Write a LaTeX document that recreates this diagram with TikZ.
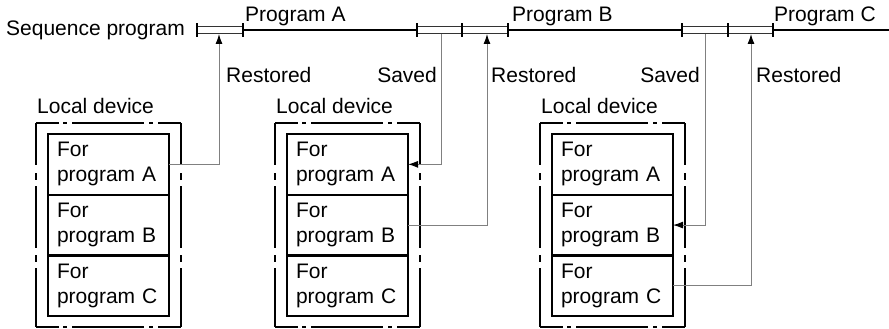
\documentclass[tikz,border=0pt]{standalone}
\usepackage{fontspec}
\setmainfont{Liberation Sans}
\usetikzlibrary{positioning,arrows.meta}

\tikzset{
  lbl/.style={inner sep=0pt, font=\fontsize{21}{25}\selectfont},
  slot/.style={draw, line width=2.4pt, outer sep=0pt, minimum width=121pt, minimum height=60.7pt,
    inner xsep=9pt, inner ysep=0pt, text width=103pt, align=left, font=\fontsize{21}{25}\selectfont},
  hbreak/.style={line width=1.2pt, dash pattern=on 23pt off 4pt on 4pt off 5pt on 72pt off 5pt on 4pt off 5pt on 40pt},
  vbreak/.style={line width=1.2pt, dash pattern=on 42pt off 8pt on 7pt off 6pt on 62pt off 7pt on 7pt off 6pt on 80pt},
  rail/.style={draw=black!80, line width=1.1pt},
  seq/.style={line width=2.4pt},
  link/.style={draw=black!50, line width=1pt},
  tip/.style={-{Latex[length=10pt,width=7pt,color=black]}},
}

\begin{document}
\begin{tikzpicture}[x=1pt, y=-1pt]
    \useasboundingbox (0,0) rectangle (889,329);

    % --- 参数 ---
    \def\railY{30}      % 时间轴的高度
    \def\railTop{23}    % 刻度上端
    \def\railBot{37}    % 刻度下端

    % --- 时间轴上的刻度点 ---
    \coordinate (t0) at (197,\railY);
    \coordinate (t1) at (243,\railY);
    \coordinate (t2) at (417,\railY);
    \coordinate (t3) at (462,\railY);
    \coordinate (t4) at (508,\railY);
    \coordinate (t5) at (682,\railY);
    \coordinate (t6) at (728,\railY);
    \coordinate (t7) at (773,\railY);
    \coordinate (tend) at (889,\railY);

    % --- 程序执行段 (粗黑线) ---
    \draw[seq] (t1) -- (t2);
    \draw[seq] (t4) -- (t5);
    \draw[seq] (t7) -- (tend);

    % --- 保存/恢复段 (双线) ---
    \foreach \a/\b in {t0/t1, t2/t3, t3/t4, t5/t6, t6/t7} {
        \draw[rail] ([yshift=-3.5pt]\a) -- ([yshift=-3.5pt]\b);
        \draw[rail] ([yshift=3.5pt]\a) -- ([yshift=3.5pt]\b);
    }
    \foreach \t in {t0,t1,t2,t3,t4,t5,t6,t7}
        \draw[line width=1.8pt] ([yshift=-7pt]\t) -- ([yshift=7pt]\t);

    % --- 标签 ---
    \node[lbl, anchor=base east] (seqlbl) at (185,36) {Sequence program};
    \node[lbl, anchor=base west] (pa) at (245,22) {Program A};
    \node[lbl, anchor=base west] (pb) at (512,22) {Program B};
    \node[lbl, anchor=base west] (pc) at (774,22) {Program C};

    % --- 三个局部设备区 ---
    \foreach \g/\x in {1/48, 2/287, 3/552} {
        \node[lbl, anchor=base west] (ld\g) at (\x-11,113) {Local device};
        \node[slot, anchor=north west] (ra\g) at (\x,134) {For\\program A};
        \node[slot, below=0pt of ra\g] (rb\g) {For\\program B};
        \node[slot, below=0pt of rb\g] (rc\g) {For\\program C};
        % 外框 (断线)
        \draw[hbreak] (\x-12,123) -- (\x+133,123);
        \draw[hbreak] (\x-12,327) -- (\x+133,327);
        \draw[vbreak] (\x-12,123) -- (\x-12,327);
        \draw[vbreak] (\x+133,123) -- (\x+133,327);
    }

    % --- 连线端点 (时间轴下沿) ---
    \coordinate (rs1) at (219,34);
    \coordinate (sv2) at (441,34);
    \coordinate (rs2) at (487,34);
    \coordinate (sv3) at (705,34);
    \coordinate (rs3) at (751,34);

    % --- 保存与恢复 ---
    \draw[link, tip] (ra1.east) -| (rs1);
    \draw[link, tip] (sv2) |- (ra2.east);
    \draw[link, tip] (rb2.east) -| (rs2);
    \draw[link, tip] (sv3) |- (rb3.east);
    \draw[link, tip] (rc3.east) -| (rs3);

    \node[lbl, anchor=base west] (rl1) at (226,82) {Restored};
    \node[lbl, anchor=base east] (sl2) at (437,82) {Saved};
    \node[lbl, anchor=base west] (rl2) at (491,82) {Restored};
    \node[lbl, anchor=base east] (sl3) at (700,82) {Saved};
    \node[lbl, anchor=base west] (rl3) at (756,82) {Restored};

\end{tikzpicture}
\end{document}
